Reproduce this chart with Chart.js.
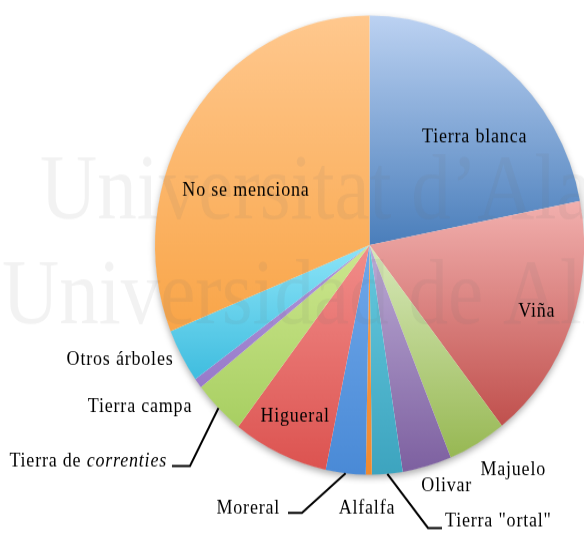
<!DOCTYPE html>
<html>
<head>
<meta charset="utf-8">
<script src="https://cdn.jsdelivr.net/npm/chart.js@4"></script>
<style>
  html { margin: 0; padding: 0; background: #fff; overflow: hidden; }
  body { margin: 0; padding: 0; background: #fff; height: 534px; }
  #pie { display: block; transform: scaleY(1.0701); transform-origin: 0 0; }
</style>
</head>
<body>
<canvas id="pie" width="584" height="499"></canvas>
<script>
// categories, clockwise from 12 o'clock
const categories = ['Tierra blanca', 'Viña', 'Majuelo', 'Olivar', 'Tierra "ortal"', 'Alfalfa',
  'Moreral', 'Higueral', 'Tierra de correnties', 'Tierra campa', 'Otros árboles', 'No se menciona'];
// shares (%)
const shares = [21.9, 17.5, 4.4, 3.7, 2.3, 0.45, 3.0, 7.2, 3.9, 0.7, 3.8, 31.1];

// gradient colours, top -> bottom of every slice
const topColors = ['#bcd2f2', '#f2b0ae', '#d8e9ba', '#bcabd5', '#66c9de', '#f89a4c',
  '#70a8ea', '#f18d8a', '#cde78f', '#b098da', '#8ce4f8', '#ffc88e'];
const bottomColors = ['#4a7ebb', '#c0504d', '#97b853', '#7d60a0', '#3da4bf', '#ef8a30',
  '#4a8ad6', '#dc5350', '#a8cf62', '#987aca', '#3fbddf', '#f9a548'];

// label placement, in pie radii from the centre
const labelLayout = [
  { ux: 0.49, uy: -0.47, align: 'center' },
  { ux: 0.78, uy: 0.29, align: 'center' },
  { ux: 0.67, uy: 0.98, align: 'center' },
  { ux: 0.36, uy: 1.05, align: 'center' },
  { ux: 0.352, uy: 1.205, align: 'left', leader: [[0.273, 1.233], [0.338, 1.233]] },
  { ux: -0.012, uy: 1.147, align: 'center' },
  { ux: -0.417, uy: 1.147, align: 'right', leader: [[-0.315, 1.167], [-0.38, 1.167]] },
  { ux: -0.347, uy: 0.749, align: 'center' },
  { ux: -0.944, uy: 0.945, align: 'right', italic: 'correnties', leader: [[-0.837, 0.963], [-0.921, 0.963]] },
  { ux: -1.07, uy: 0.706, align: 'center' },
  { ux: -1.163, uy: 0.50, align: 'center' },
  { ux: -0.576, uy: -0.235, align: 'center' }
];

const FONT = '"Liberation Serif", "Times New Roman", serif';

const slicePaint = {
  id: 'slicePaint',
  beforeDatasetsDraw(chart) {
    const ctx = chart.ctx;
    const arcs = chart.getDatasetMeta(0).data;
    const a0 = arcs[0];
    // soft shadow under the whole pie
    ctx.save();
    ctx.shadowColor = 'rgba(0,0,0,0.35)';
    ctx.shadowBlur = 7;
    ctx.shadowOffsetY = 3;
    ctx.fillStyle = '#fff';
    ctx.beginPath();
    ctx.arc(a0.x, a0.y, a0.outerRadius - 0.5, 0, Math.PI * 2);
    ctx.fill();
    ctx.restore();

    arcs.forEach((arc, i) => {
      const { x, y, startAngle, endAngle, outerRadius: r } = arc;
      let ys = [y, y + r * Math.sin(startAngle), y + r * Math.sin(endAngle)];
      for (let k = -1; k <= 3; k++) {
        const a = Math.PI / 2 + k * Math.PI;
        if (a > startAngle && a < endAngle) ys.push(y + r * Math.sin(a));
      }
      const g = ctx.createLinearGradient(0, Math.min(...ys), 0, Math.max(...ys));
      g.addColorStop(0, topColors[i]);
      g.addColorStop(1, bottomColors[i]);
      arc.options.backgroundColor = g;
    });
  },
  afterDatasetsDraw(chart) {
    const ctx = chart.ctx;
    const arcs = chart.getDatasetMeta(0).data;
    const cx = arcs[0].x, cy = arcs[0].y, r = arcs[0].outerRadius;

    // faint watermark (condensed serif)
    ctx.save();
    ctx.fillStyle = 'rgba(110,110,110,0.09)';
    ctx.font = '86px ' + FONT;
    ctx.textBaseline = 'alphabetic';
    ctx.scale(0.92, 1);
    ctx.fillText('Universitat d\u2019Alacant', 40 / 0.92, 204);
    ctx.fillText('Universidad de Alicante', 2 / 0.92, 302);
    ctx.restore();

    // labels
    ctx.save();
    ctx.fillStyle = '#000';
    ctx.strokeStyle = '#000';
    ctx.lineWidth = 2;
    ctx.textBaseline = 'middle';
    ctx.letterSpacing = '0.8px';
    labelLayout.forEach((lay, i) => {
      const arc = arcs[i];
      const tx = cx + lay.ux * r, ty = cy + lay.uy * r;
      if (lay.leader) {
        const mid = (arc.startAngle + arc.endAngle) / 2;
        ctx.beginPath();
        ctx.moveTo(cx + r * Math.cos(mid), cy + r * Math.sin(mid));
        lay.leader.forEach(p => ctx.lineTo(cx + p[0] * r, cy + p[1] * r));
        ctx.stroke();
      }
      const text = categories[i];
      if (lay.italic) {
        const plain = text.slice(0, text.length - lay.italic.length);
        ctx.font = '18px ' + FONT;
        const w1 = ctx.measureText(plain).width;
        ctx.font = 'italic 18px ' + FONT;
        const w2 = ctx.measureText(lay.italic).width;
        const x0 = tx - w1 - w2;
        ctx.textAlign = 'left';
        ctx.font = '18px ' + FONT;
        ctx.fillText(plain, x0, ty);
        ctx.font = 'italic 18px ' + FONT;
        ctx.fillText(lay.italic, x0 + w1, ty);
      } else {
        ctx.font = '18px ' + FONT;
        ctx.textAlign = lay.align;
        ctx.fillText(text, tx, ty);
      }
    });
    ctx.restore();
  }
};

new Chart(document.getElementById('pie').getContext('2d'), {
  type: 'pie',
  data: {
    labels: categories,
    datasets: [{
      data: shares,
      backgroundColor: bottomColors,
      borderWidth: 0
    }]
  },
  options: {
    responsive: false,
    animation: false,
    events: [],
    layout: { padding: { left: 155, right: 0, top: 14, bottom: 55 } },
    plugins: {
      legend: { display: false },
      tooltip: { enabled: false }
    }
  },
  plugins: [slicePaint]
});
</script>
</body>
</html>
